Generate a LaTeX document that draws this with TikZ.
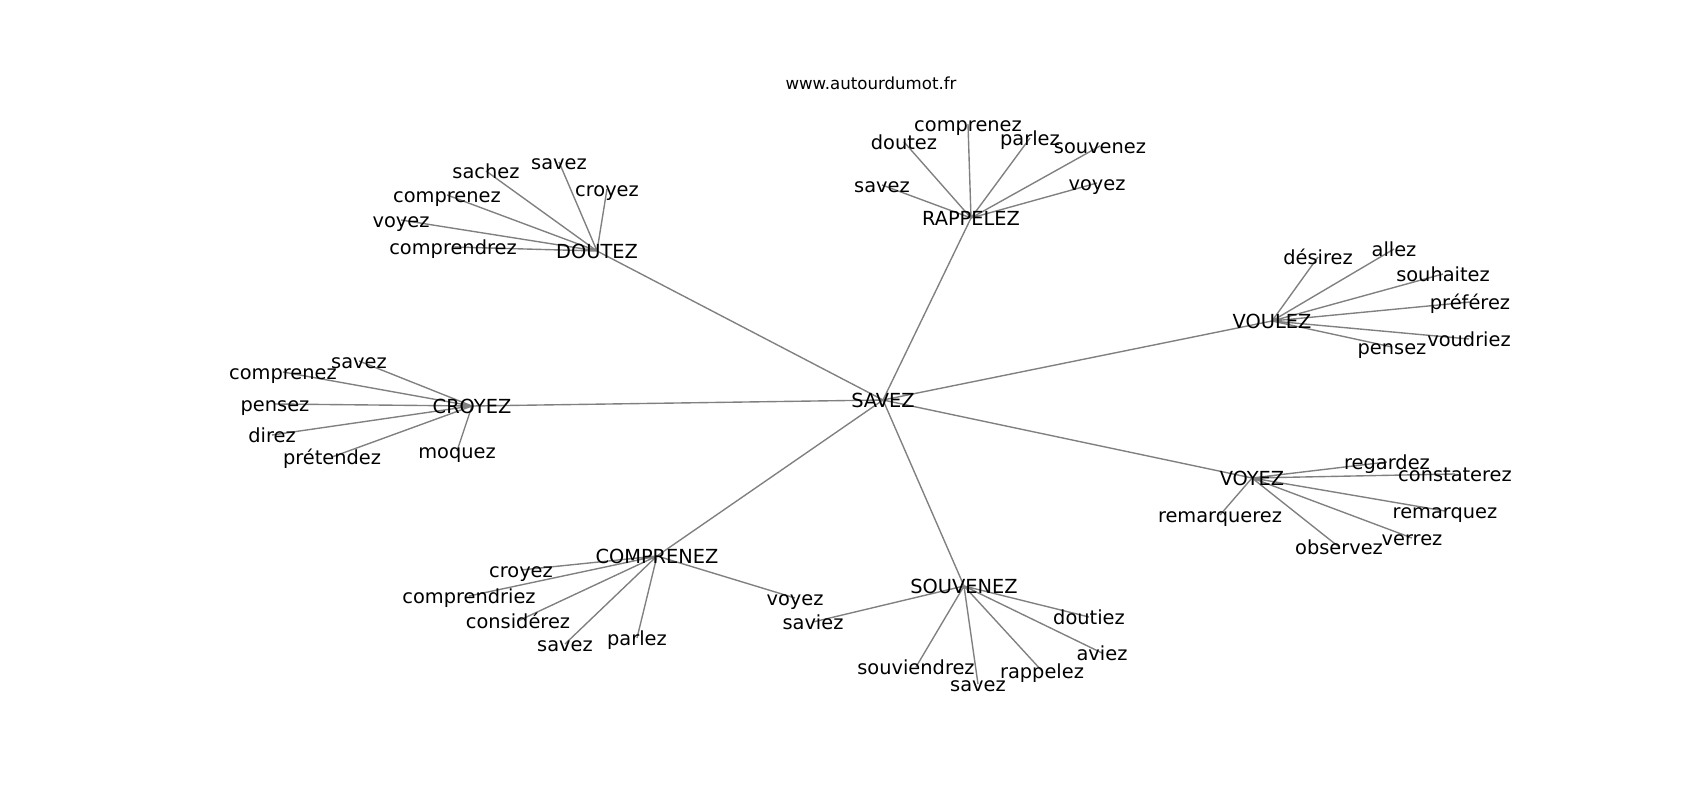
\documentclass[tikz,border=0pt]{standalone}
\usepackage{fontspec}
\setmainfont{DejaVu Sans}
\usetikzlibrary{backgrounds}

\tikzset{
  palabra/.style={font=\fontsize{14}{16}\selectfont, inner sep=0pt, text height=13.8pt, text depth=3.3pt},
  arista/.style={draw=black!50, line width=1pt},
}

\begin{document}
\begin{tikzpicture}[x=0.01in, y=-0.01in]
        % Marco
        \useasboundingbox (0,0) rectangle (1700,800);
        \node[font=\fontsize{12}{14}\selectfont] (titulo) at (871,83) {www.autourdumot.fr};
        % Nodo central
        \node[palabra] (savez) at (883,400) {SAVEZ};
        % Nodos principales
        \node[palabra] (doutez) at (597,251) {DOUTEZ};
        \node[palabra] (rappelez) at (971,218) {RAPPELEZ};
        \node[palabra] (voulez) at (1272,321) {VOULEZ};
        \node[palabra] (croyez) at (472,406) {CROYEZ};
        \node[palabra] (voyez) at (1252,478) {VOYEZ};
        \node[palabra] (comprenez) at (657,556) {COMPRENEZ};
        \node[palabra] (souvenez) at (964,586) {SOUVENEZ};
        % Hojas DOUTEZ
        \node[palabra] (dou-sachez) at (486,171) {sachez};
        \node[palabra] (dou-savez) at (559,162) {savez};
        \node[palabra] (dou-croyez) at (607,189) {croyez};
        \node[palabra] (dou-comprenez) at (447,195) {comprenez};
        \node[palabra] (dou-voyez) at (401,220) {voyez};
        \node[palabra] (dou-comprendrez) at (453,247) {comprendrez};
        % Hojas RAPPELEZ
        \node[palabra] (rap-comprenez) at (968,124) {comprenez};
        \node[palabra] (rap-doutez) at (904,142) {doutez};
        \node[palabra] (rap-parlez) at (1030,138) {parlez};
        \node[palabra] (rap-souvenez) at (1100,146) {souvenez};
        \node[palabra] (rap-savez) at (882,185) {savez};
        \node[palabra] (rap-voyez) at (1097,183) {voyez};
        % Hojas VOULEZ
        \node[palabra] (vou-desirez) at (1318,257) {désirez};
        \node[palabra] (vou-allez) at (1394,249) {allez};
        \node[palabra] (vou-souhaitez) at (1443,274) {souhaitez};
        \node[palabra] (vou-preferez) at (1470,302) {préférez};
        \node[palabra] (vou-voudriez) at (1469,339) {voudriez};
        \node[palabra] (vou-pensez) at (1392,347) {pensez};
        % Hojas CROYEZ
        \node[palabra] (cro-savez) at (359,361) {savez};
        \node[palabra] (cro-comprenez) at (283,372) {comprenez};
        \node[palabra] (cro-pensez) at (275,404) {pensez};
        \node[palabra] (cro-direz) at (272,435) {direz};
        \node[palabra] (cro-pretendez) at (332,457) {prétendez};
        \node[palabra] (cro-moquez) at (457,451) {moquez};
        % Hojas VOYEZ
        \node[palabra] (voy-regardez) at (1387,462) {regardez};
        \node[palabra] (voy-constaterez) at (1455,474) {constaterez};
        \node[palabra] (voy-remarquez) at (1445,511) {remarquez};
        \node[palabra] (voy-verrez) at (1412,538) {verrez};
        \node[palabra] (voy-observez) at (1339,547) {observez};
        \node[palabra] (voy-remarquerez) at (1220,515) {remarquerez};
        % Hojas COMPRENEZ
        \node[palabra] (com-croyez) at (521,570) {croyez};
        \node[palabra] (com-comprendriez) at (469,596) {comprendriez};
        \node[palabra] (com-considerez) at (518,621) {considérez};
        \node[palabra] (com-savez) at (565,644) {savez};
        \node[palabra] (com-parlez) at (637,638) {parlez};
        \node[palabra] (com-voyez) at (795,598) {voyez};
        % Hojas SOUVENEZ
        \node[palabra] (sou-saviez) at (813,622) {saviez};
        \node[palabra] (sou-souviendrez) at (916,667) {souviendrez};
        \node[palabra] (sou-savez) at (978,684) {savez};
        \node[palabra] (sou-rappelez) at (1042,671) {rappelez};
        \node[palabra] (sou-aviez) at (1102,653) {aviez};
        \node[palabra] (sou-doutiez) at (1089,617) {doutiez};
        % Aristas (debajo del texto)
        \begin{pgfonlayer}{background}
        \draw[arista] (savez.center) -- (doutez.center) (savez.center) -- (rappelez.center)
                      (savez.center) -- (voulez.center) (savez.center) -- (croyez.center)
                      (savez.center) -- (voyez.center) (savez.center) -- (comprenez.center)
                      (savez.center) -- (souvenez.center);
        \draw[arista] (doutez.center) -- (dou-sachez.center) (doutez.center) -- (dou-savez.center)
                      (doutez.center) -- (dou-croyez.center) (doutez.center) -- (dou-comprenez.center)
                      (doutez.center) -- (dou-voyez.center) (doutez.center) -- (dou-comprendrez.center);
        \draw[arista] (rappelez.center) -- (rap-comprenez.center) (rappelez.center) -- (rap-doutez.center)
                      (rappelez.center) -- (rap-parlez.center) (rappelez.center) -- (rap-souvenez.center)
                      (rappelez.center) -- (rap-savez.center) (rappelez.center) -- (rap-voyez.center);
        \draw[arista] (voulez.center) -- (vou-desirez.center) (voulez.center) -- (vou-allez.center)
                      (voulez.center) -- (vou-souhaitez.center) (voulez.center) -- (vou-preferez.center)
                      (voulez.center) -- (vou-voudriez.center) (voulez.center) -- (vou-pensez.center);
        \draw[arista] (croyez.center) -- (cro-savez.center) (croyez.center) -- (cro-comprenez.center)
                      (croyez.center) -- (cro-pensez.center) (croyez.center) -- (cro-direz.center)
                      (croyez.center) -- (cro-pretendez.center) (croyez.center) -- (cro-moquez.center);
        \draw[arista] (voyez.center) -- (voy-regardez.center) (voyez.center) -- (voy-constaterez.center)
                      (voyez.center) -- (voy-remarquez.center) (voyez.center) -- (voy-verrez.center)
                      (voyez.center) -- (voy-observez.center) (voyez.center) -- (voy-remarquerez.center);
        \draw[arista] (comprenez.center) -- (com-croyez.center) (comprenez.center) -- (com-comprendriez.center)
                      (comprenez.center) -- (com-considerez.center) (comprenez.center) -- (com-savez.center)
                      (comprenez.center) -- (com-parlez.center) (comprenez.center) -- (com-voyez.center);
        \draw[arista] (souvenez.center) -- (sou-saviez.center) (souvenez.center) -- (sou-souviendrez.center)
                      (souvenez.center) -- (sou-savez.center) (souvenez.center) -- (sou-rappelez.center)
                      (souvenez.center) -- (sou-aviez.center) (souvenez.center) -- (sou-doutiez.center);
        \end{pgfonlayer}
\end{tikzpicture}
\end{document}
